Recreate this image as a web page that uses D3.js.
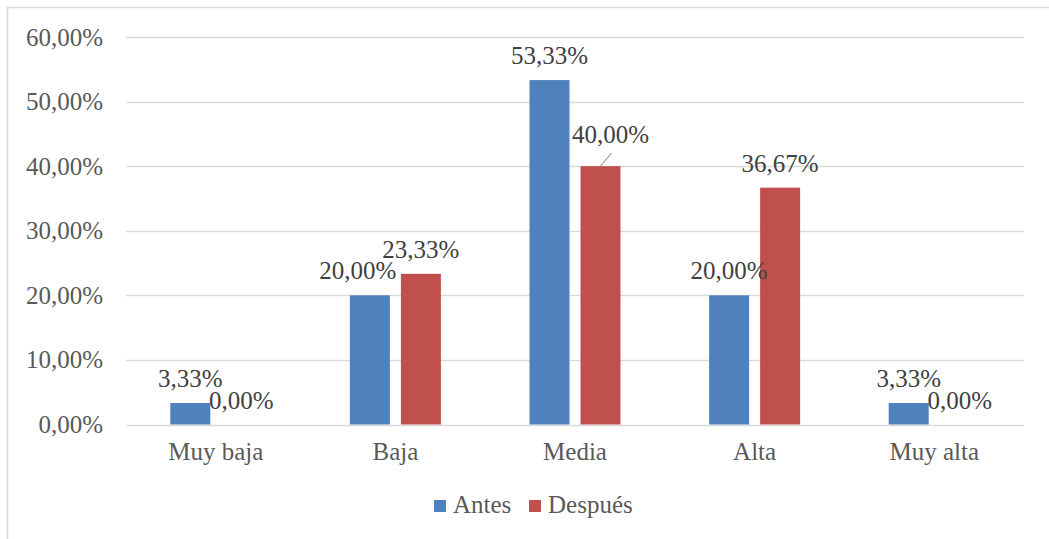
<!DOCTYPE html>
<html>
<head>
<meta charset="utf-8">
<script src="https://cdn.jsdelivr.net/npm/d3@7"></script>
<style>
  body { margin: 0; background: #fff; }
  text { font-family: "Liberation Serif", serif; }
</style>
</head>
<body>
<div id="chart"></div>
<script>
var categories = ['Muy baja', 'Baja', 'Media', 'Alta', 'Muy alta'];
var seriesNames = ['Antes', 'Después'];
var antes = [3.33, 20.00, 53.33, 20.00, 3.33];
var despues = [0.00, 23.33, 40.00, 36.67, 0.00];
var yTicks = [0, 10, 20, 30, 40, 50, 60];

var colors = ['#4F81BD', '#C0504D'];
var width = 1049, height = 539;
var margin = { top: 37, left: 126, right: 25, bottom: 115 };
var fontSize = '25px';

var svg = d3.select('#chart').append('svg')
    .attr('width', width)
    .attr('height', height);

// chart frame
svg.append('rect')
    .attr('x', 7.5).attr('y', 7.5)
    .attr('width', 1200).attr('height', 700)
    .style('fill', 'none')
    .style('stroke', '#D9D9D9')
    .style('stroke-width', 1.5);

var x = d3.scaleBand()
    .domain(categories)
    .range([margin.left, width - margin.right]);

var y = d3.scaleLinear()
    .domain([0, 60])
    .range([height - margin.bottom + 0.5, margin.top]);

var fmt = function(v) { return d3.format('.2f')(v).replace('.', ',') + '%'; };

// gridlines
svg.append('g')
    .selectAll('line')
    .data(yTicks)
    .enter().append('line')
    .attr('x1', margin.left).attr('x2', width - margin.right)
    .attr('y1', function(d) { return Math.round(y(d)) + 0.5; })
    .attr('y2', function(d) { return Math.round(y(d)) + 0.5; })
    .style('stroke', '#D9D9D9')
    .style('stroke-width', 1.5);

// y axis labels
var yAxis = d3.axisLeft(y).tickValues(yTicks).tickFormat(fmt).tickSize(0).tickPadding(23);
var gy = svg.append('g')
    .attr('transform', 'translate(' + margin.left + ',0)')
    .call(yAxis);
gy.select('.domain').remove();
gy.selectAll('text')
    .style('font-family', '"Liberation Serif", serif')
    .style('font-size', fontSize)
    .style('fill', '#595959');

// x axis labels
var xAxis = d3.axisBottom(x).tickSize(0).tickPadding(18);
var gx = svg.append('g')
    .attr('transform', 'translate(0,' + y(0) + ')')
    .call(xAxis);
gx.select('.domain').remove();
gx.selectAll('text')
    .style('font-family', '"Liberation Serif", serif')
    .style('font-size', fontSize)
    .style('fill', '#595959');

var barW = 40, gap = 11;
var rows = [];
categories.forEach(function(c, i) {
    rows.push({ cat: c, s: 0, v: antes[i] });
    rows.push({ cat: c, s: 1, v: despues[i] });
});
function barX(d) {
    var mid = x(d.cat) + x.bandwidth() / 2;
    return d.s === 0 ? mid - gap / 2 - barW : mid + gap / 2;
}

svg.append('g')
    .selectAll('rect')
    .data(rows)
    .enter().append('rect')
    .attr('x', function(d) { return barX(d); })
    .attr('y', function(d) { return y(d.v); })
    .attr('width', barW)
    .attr('height', function(d) { return y(0) - y(d.v); })
    .style('fill', function(d) { return colors[d.s]; });

// label nudges (Excel moved a couple of labels)
function nudge(d) {
    if (d.cat === 'Baja' && d.s === 0) return [-12, 0];
    if (d.cat === 'Media' && d.s === 1) return [10, -7];
    return [0, 0];
}

var labels = svg.append('g');
labels.selectAll('text')
    .data(rows)
    .enter().append('text')
    .attr('x', function(d) { return barX(d) + barW / 2 + nudge(d)[0]; })
    .attr('y', function(d) { return y(d.v) - 16 + nudge(d)[1]; })
    .attr('text-anchor', 'middle')
    .style('font-size', fontSize)
    .style('fill', '#404040')
    .text(function(d) { return fmt(d.v); });

// leader line for moved label
labels.selectAll('line')
    .data(rows.filter(function(d) { return d.cat === 'Media' && d.s === 1; }))
    .enter().append('line')
    .attr('x1', function(d) { return barX(d) + barW / 2; })
    .attr('y1', function(d) { return y(d.v); })
    .attr('x2', function(d) { return barX(d) + barW / 2 + 11; })
    .attr('y2', function(d) { return y(d.v) - 13; })
    .style('stroke', '#A6A6A6')
    .style('stroke-width', 1.2);

// legend
var legend = svg.append('g').attr('transform', 'translate(434,500)');
var item = legend.selectAll('g')
    .data(seriesNames)
    .enter().append('g')
    .attr('transform', function(d, i) { return 'translate(' + (i * 95) + ',0)'; });
item.append('rect')
    .attr('width', 12).attr('height', 12)
    .style('fill', function(d, i) { return colors[i]; });
item.append('text')
    .attr('x', 19).attr('y', 13)
    .style('font-size', fontSize)
    .style('fill', '#595959')
    .text(function(d) { return d; });
</script>
</body>
</html>
